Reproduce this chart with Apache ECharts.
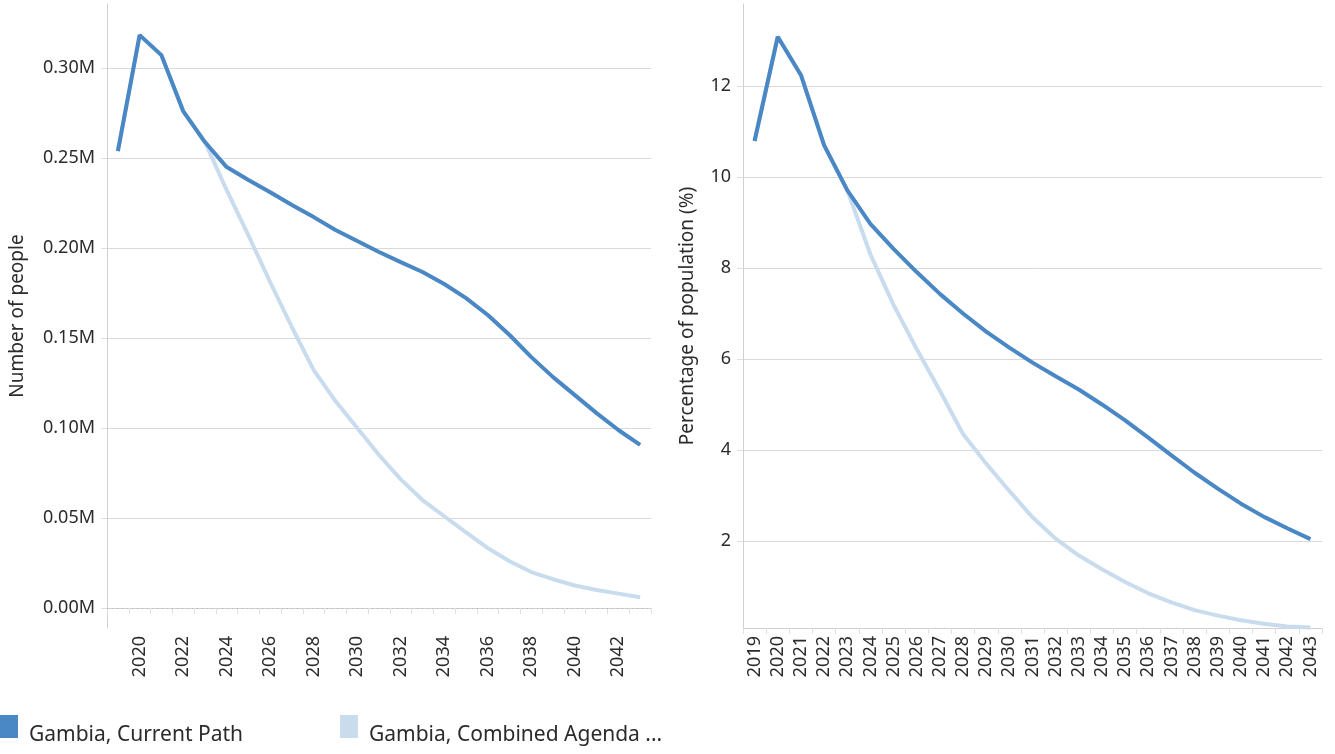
<!DOCTYPE html>
<html>
<head>
<meta charset="utf-8">
<script src="https://cdn.jsdelivr.net/npm/echarts@6/dist/echarts.min.js"></script>
<style>
  html, body { margin: 0; padding: 0; background: #fff; }
  #chart { width: 1335px; height: 754px; }
</style>
</head>
<body>
<div id="chart"></div>
<script>
// Years shown on both panels
const years = ['2019','2020','2021','2022','2023','2024','2025','2026','2027','2028','2029','2030',
  '2031','2032','2033','2034','2035','2036','2037','2038','2039','2040','2041','2042','2043'];

// Number of people (left panel)
const peopleCurrent = [253900, 318300, 307200, 276100, 258900, 245000, 237800, 231000, 223900, 217200,
  210000, 203900, 197800, 192200, 186700, 180000, 172200, 162800, 151700, 139400, 128300, 118300,
  108300, 98900, 90600];
const peopleCombined = [253900, 318300, 307200, 276100, 258900, 232200, 207000, 181000, 156000, 132200,
  115000, 100000, 85000, 71500, 60000, 51000, 42000, 33300, 26000, 20000, 16000, 12500, 10000,
  8000, 6000];

// Share of population, % (right panel)
const pctCurrent = [10.79, 13.08, 12.24, 10.70, 9.71, 8.97, 8.42, 7.91, 7.43, 7.00, 6.60, 6.25, 5.92,
  5.62, 5.33, 5.00, 4.65, 4.27, 3.88, 3.50, 3.15, 2.82, 2.53, 2.28, 2.04];
const pctCombined = [10.79, 13.08, 12.24, 10.70, 9.71, 8.30, 7.19, 6.22, 5.30, 4.35, 3.70, 3.10, 2.52,
  2.05, 1.68, 1.38, 1.10, 0.85, 0.65, 0.48, 0.36, 0.26, 0.18, 0.12, 0.10];

const seriesNames = ['Gambia, Current Path', 'Gambia, Combined Agenda ...'];
const colorCurrent = '#4a87c5';
const colorCombined = '#c9dcee';

const FONT = 'Noto Sans';
const TEXT = '#2b2b2b';
const GRID = '#d9d9d9';
const AXIS = '#d0d0d0';
const TICK = '#e0e0e0';

const chart = echarts.init(document.getElementById('chart'));

function xAxisCfg(gridIndex, labelInterval) {
  return {
    type: 'category', gridIndex, data: years, boundaryGap: true,
    axisLine: { lineStyle: { color: AXIS, width: 1 } },
    axisTick: { show: true, interval: 0, length: 6, lineStyle: { color: TICK } },
    axisLabel: { rotate: 90, interval: labelInterval, color: TEXT, fontFamily: FONT, fontSize: 18, margin: 8 },
    splitLine: { show: false }
  };
}

// legend entry: square swatch with its caption sitting a little lower than the swatch centre
function legendCfg(name, left) {
  return {
    data: [name], left: left, top: 715, padding: 0, icon: 'rect', itemWidth: 18, itemHeight: 23,
    formatter: '{t|{name}}',
    textStyle: {
      color: TEXT, fontFamily: FONT, fontSize: 21,
      rich: { t: { color: TEXT, fontFamily: FONT, fontSize: 21, padding: [18, 0, 0, 6] } }
    }
  };
}

chart.setOption({
  animation: false,
  textStyle: { fontFamily: FONT },
  grid: [
    { left: 107, right: 684, top: 4, bottom: 126 },
    { left: 743, right: 13, top: 4, bottom: 126 }
  ],
  xAxis: [
    xAxisCfg(0, function (i) { return i % 2 === 1; }),
    xAxisCfg(1, 0)
  ],
  yAxis: [
    {
      type: 'value', gridIndex: 0, min: -11100, max: 335600, splitNumber: 7,
      name: 'Number of people', nameLocation: 'middle', nameGap: 80,
      nameTextStyle: { color: TEXT, fontFamily: FONT, fontSize: 19 },
      axisLine: { show: true, lineStyle: { color: AXIS } },
      axisTick: { show: true, length: 6, lineStyle: { color: TICK } },
      axisLabel: {
        color: TEXT, fontFamily: FONT, fontSize: 18, margin: 12,
        showMinLabel: false, showMaxLabel: false,
        formatter: function (v) { return (v / 1e6).toFixed(2) + 'M'; }
      },
      // first two lines (axis bottom and zero) and the top edge stay hidden; zero gets a dotted line
      splitLine: { show: true, lineStyle: { color: ['transparent', 'transparent', GRID, GRID, GRID, GRID, GRID, GRID, 'transparent'] } }
    },
    {
      type: 'value', gridIndex: 1, min: 0.088, max: 13.8, splitNumber: 7,
      name: 'Percentage of population (%)', nameLocation: 'middle', nameGap: 46,
      nameTextStyle: { color: TEXT, fontFamily: FONT, fontSize: 19 },
      axisLine: { show: true, lineStyle: { color: AXIS } },
      axisTick: { show: true, length: 6, lineStyle: { color: TICK } },
      axisLabel: {
        color: TEXT, fontFamily: FONT, fontSize: 18, margin: 12,
        showMinLabel: false, showMaxLabel: false
      },
      splitLine: { show: true, lineStyle: { color: ['transparent', GRID, GRID, GRID, GRID, GRID, GRID, 'transparent'] } }
    }
  ],
  legend: [legendCfg(seriesNames[0], 0), legendCfg(seriesNames[1], 340)],
  series: [
    {
      name: seriesNames[1], type: 'line', xAxisIndex: 0, yAxisIndex: 0, data: peopleCombined,
      symbol: 'none', lineStyle: { color: colorCombined, width: 4 }, itemStyle: { color: colorCombined }, z: 2
    },
    {
      name: seriesNames[0], type: 'line', xAxisIndex: 0, yAxisIndex: 0, data: peopleCurrent,
      symbol: 'none', lineStyle: { color: colorCurrent, width: 4 }, itemStyle: { color: colorCurrent }, z: 3,
      markLine: {
        silent: true, symbol: 'none', label: { show: false },
        lineStyle: { color: '#b5b5b5', type: [1, 4], width: 1 },
        data: [{ yAxis: 0 }]
      }
    },
    {
      name: seriesNames[1], type: 'line', xAxisIndex: 1, yAxisIndex: 1, data: pctCombined,
      symbol: 'none', lineStyle: { color: colorCombined, width: 4 }, itemStyle: { color: colorCombined }, z: 2
    },
    {
      name: seriesNames[0], type: 'line', xAxisIndex: 1, yAxisIndex: 1, data: pctCurrent,
      symbol: 'none', lineStyle: { color: colorCurrent, width: 4 }, itemStyle: { color: colorCurrent }, z: 3
    }
  ]
});
</script>
</body>
</html>
